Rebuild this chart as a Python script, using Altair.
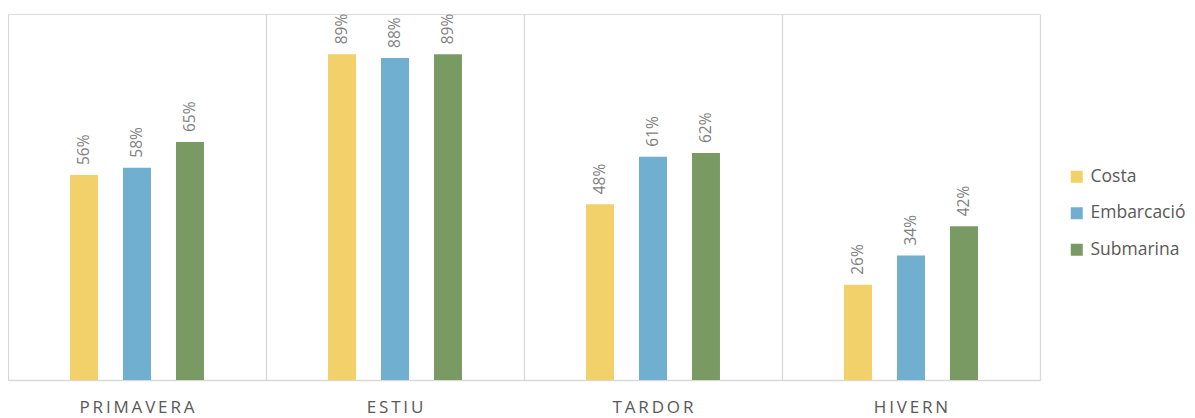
import altair as alt
import pandas as pd

seasons = ["PRIMAVERA", "ESTIU", "TARDOR", "HIVERN"]
series = ["Costa", "Embarcació", "Submarina"]
costa = [0.56, 0.89, 0.48, 0.26]
embarcacio = [0.58, 0.88, 0.61, 0.34]
submarina = [0.65, 0.89, 0.62, 0.42]
colors = ["#F2D16B", "#71AFD1", "#7A9A63"]

rows = []
for i, s in enumerate(seasons):
    for name, vals in zip(series, [costa, embarcacio, submarina]):
        rows.append({"season": s, "series": name, "value": vals[i]})
df = pd.DataFrame(rows)

FONT = "Open Sans"

x = alt.X("season:N", sort=seasons, title=None,
          scale=alt.Scale(paddingInner=0, paddingOuter=0),
          axis=alt.Axis(grid=True, bandPosition=0, gridColor="#d9d9d9", gridWidth=1.3,
                        domainColor="#d9d9d9", domainWidth=1.3, ticks=False,
                        labelAngle=0, labelFont=FONT, labelFontSize=17, labelColor="#595959",
                        labelPadding=19,
                        labelExpr="join(split(datum.label, ''), '\u2009')"))
xoff = alt.XOffset("series:N", sort=series,
                   scale=alt.Scale(paddingInner=0.13, paddingOuter=1))
y_scale = alt.Scale(domain=[0, 1])

bars = alt.Chart(df).mark_bar(width=28).encode(
    x=x, xOffset=xoff,
    y=alt.Y("value:Q", scale=y_scale,
            axis=alt.Axis(orient="left", labels=False, ticks=False, grid=False, title=None,
                          domain=False)),
    color=alt.Color("series:N", sort=series,
                    scale=alt.Scale(domain=series, range=colors),
                    legend=alt.Legend(title=None, orient="none", legendX=1060, legendY=154,
                                      symbolType="square", symbolSize=144, symbolStrokeWidth=0,
                                      labelFont=FONT, labelFontSize=17.5, labelColor="#595959",
                                      rowPadding=17.5, labelOffset=5)),
)

labels = alt.Chart(df).mark_text(angle=270, align="left", baseline="middle", dx=10,
                                 font=FONT, fontSize=15.5, color="#7f7f7f").encode(
    x=x, xOffset=xoff,
    y=alt.Y("value:Q", scale=y_scale,
            axis=alt.Axis(orient="right", labels=False, ticks=False, grid=False, title=None,
                          domain=True, domainColor="#d9d9d9", domainWidth=1.3)),
    text=alt.Text("value:Q", format=".0%"),
)

chart = alt.layer(bars, labels).resolve_axis(y="independent").properties(
    width=1032, height=366,
    padding={"left": 0, "top": 6, "right": 147, "bottom": 36},
    autosize=alt.AutoSizeParams(type="none"),
).configure_view(stroke=None).configure(background="white")

chart.save("out.html", embed_options={"renderer": "svg", "actions": False})
